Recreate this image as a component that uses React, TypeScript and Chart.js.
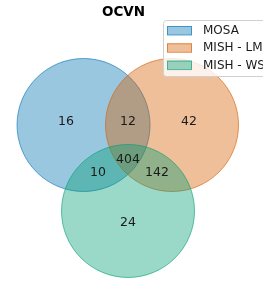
import React, { useEffect, useRef } from "react";
import { Chart, registerables } from "chart.js";

Chart.register(...registerables);

const chartTitle = "OCVN";
const setNames = ["MOSA", "MISH - LM", "MISH - WS"];
const setColors = ["#0173b2", "#d55e00", "#029e73"];
const circleX = [-0.669, 0.662, 0];
const circleY = [0.421, 0.421, -0.872];
const circleR = [1, 1, 1];
const regionLabels = ["16", "12", "42", "404", "10", "142", "24"];
const regionX = [-0.932, 0, 0.917, 0, -0.451, 0.436, 0];
const regionY = [0.476, 0.476, 0.476, -0.095, -0.291, -0.291, -1.043];

function rgba(hex: string, a: number) {
  const n = parseInt(hex.slice(1), 16);
  return `rgba(${(n >> 16) & 255},${(n >> 8) & 255},${n & 255},${a})`;
}

const FONT = "'DejaVu Sans', sans-serif";

const vennPlugin = {
  id: "venn",
  afterDatasetsDraw(chart: any) {
    const { ctx, scales } = chart;
    ctx.save();
    ctx.fillStyle = "#1a1a1a";
    ctx.font = `12.5px ${FONT}`;
    ctx.textAlign = "center";
    ctx.textBaseline = "middle";
    regionLabels.forEach((t, i) => {
      ctx.fillText(t, scales.x.getPixelForValue(regionX[i]), scales.y.getPixelForValue(regionY[i]));
    });
    ctx.restore();
  },
  afterDraw(chart: any) {
    const { ctx } = chart;
    ctx.save();
    // title
    ctx.fillStyle = "#000";
    ctx.font = `bold 13.5px ${FONT}`;
    ctx.textAlign = "center";
    ctx.textBaseline = "middle";
    ctx.fillText(chartTitle, 123.5, 12);
    // legend frame
    const lx = 163.5, ly = 20.5, lw = 112, lh = 56, r = 3;
    ctx.beginPath();
    ctx.moveTo(lx + r, ly);
    ctx.lineTo(lx + lw - r, ly);
    ctx.arcTo(lx + lw, ly, lx + lw, ly + r, r);
    ctx.lineTo(lx + lw, ly + lh - r);
    ctx.arcTo(lx + lw, ly + lh, lx + lw - r, ly + lh, r);
    ctx.lineTo(lx + r, ly + lh);
    ctx.arcTo(lx, ly + lh, lx, ly + lh - r, r);
    ctx.lineTo(lx, ly + r);
    ctx.arcTo(lx, ly, lx + r, ly, r);
    ctx.closePath();
    ctx.fillStyle = "rgba(255,255,255,0.8)";
    ctx.fill();
    ctx.strokeStyle = "#d0d0d0";
    ctx.lineWidth = 1;
    ctx.stroke();
    ctx.font = `12px ${FONT}`;
    ctx.textAlign = "left";
    setNames.forEach((name, i) => {
      const cy = 30.5 + i * 17.3;
      ctx.fillStyle = rgba(setColors[i], 0.4);
      ctx.fillRect(167, cy - 4.5, 25, 9);
      ctx.strokeStyle = rgba(setColors[i], 0.6);
      ctx.strokeRect(167.5, cy - 4, 24, 8.5);
      ctx.fillStyle = "#1a1a1a";
      ctx.fillText(name, 203, cy + 0.5);
    });
    ctx.restore();
  },
};

export default function App() {
  const ref = useRef<HTMLCanvasElement>(null);
  useEffect(() => {
    if (!ref.current) return;
    const radiusFor = (i: number) => (c: any) => {
      const s = c.chart.scales.x;
      return Math.abs(s.getPixelForValue(circleR[i]) - s.getPixelForValue(0));
    };
    const chart = new Chart(ref.current, {
      type: "scatter",
      data: {
        datasets: setNames.map((name, i) => ({
          label: name,
          data: [{ x: circleX[i], y: circleY[i] }],
          backgroundColor: rgba(setColors[i], 0.4),
          borderColor: rgba(setColors[i], 0.6),
          borderWidth: 1,
          pointRadius: radiusFor(i),
          pointHoverRadius: radiusFor(i),
          order: 3 - i,
          clip: false as any,
        })),
      },
      options: {
        animation: false,
        responsive: false,
        events: [],
        layout: { padding: 0 },
        plugins: { legend: { display: false }, title: { display: false }, tooltip: { enabled: false } },
        scales: {
          x: { type: "linear", display: false, min: -1.925, max: 2.03 },
          y: { type: "linear", display: false, min: -1.94, max: 2.301 },
        },
      },
      plugins: [vennPlugin],
    });
    return () => chart.destroy();
  }, []);
  return (
    <div style={{ position: "absolute", left: 0, top: 0, width: 263, height: 282 }}>
      <canvas ref={ref} width={263} height={282} style={{ display: "block" }} />
    </div>
  );
}
